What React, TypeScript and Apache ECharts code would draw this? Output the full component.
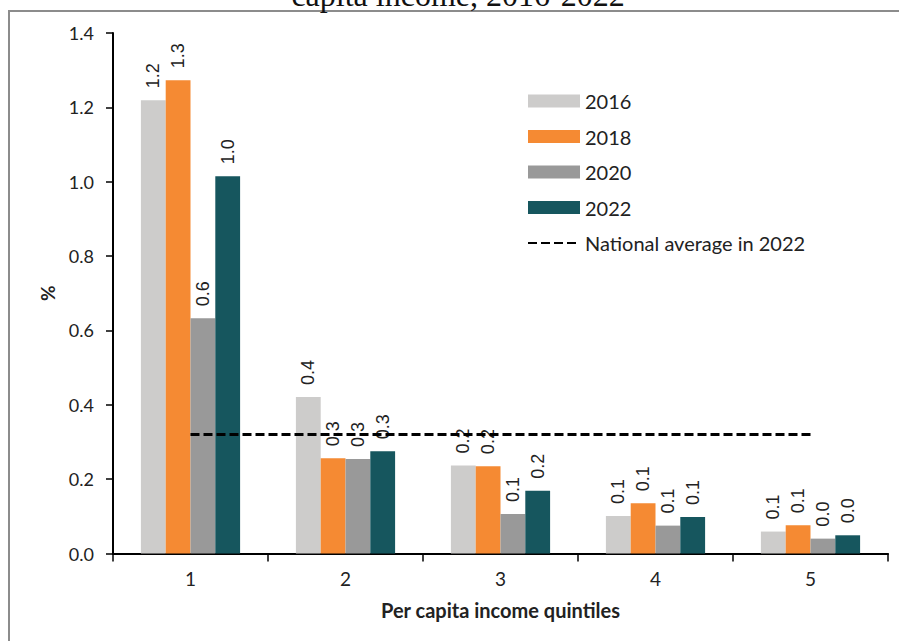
import React, { useEffect, useRef } from "react";
import * as echarts from "echarts";

const categories = ["1", "2", "3", "4", "5"];
const years = ["2016", "2018", "2020", "2022"];
const values2016 = [1.219, 0.421, 0.237, 0.101, 0.059];
const values2018 = [1.273, 0.256, 0.235, 0.135, 0.076];
const values2020 = [0.633, 0.254, 0.106, 0.075, 0.04];
const values2022 = [1.015, 0.275, 0.169, 0.098, 0.049];
const nationalAverage2022 = [0.32, 0.32, 0.32, 0.32, 0.32];
const yTicks = { min: 0, max: 1.4, interval: 0.2 };
const colors = ["#cdcccb", "#f58a33", "#999999", "#16565e"];

export default function App() {
  const ref = useRef<HTMLDivElement>(null);
  useEffect(() => {
    document.body.style.margin = "0";
    if (!ref.current) return;
    const chart = echarts.init(ref.current, null, { renderer: "svg" });
    const seriesValues = [values2016, values2018, values2020, values2022];
    const barSeries = years.map((y, i) => ({
      name: y,
      type: "bar",
      data: seriesValues[i],
      barGap: "0%",
      barCategoryGap: "36%",
      itemStyle: { color: colors[i] },
      label: {
        show: true,
        position: "top",
        rotate: 90,
        align: "left",
        verticalAlign: "middle",
        distance: 12,
        fontFamily: "Liberation Sans",
        fontSize: 18,
        color: "#222",
        formatter: (p: any) => Number(p.value).toFixed(1),
      },
    }));
    chart.setOption({
      animation: false,
      backgroundColor: "#fff",
      graphic: [
        {
          type: "rect",
          shape: { x: 9, y: 11, width: 900, height: 700 },
          style: { fill: "none", stroke: "#8c8c8c", lineWidth: 2 },
          silent: true,
        },
        {
          type: "text",
          x: 458,
          y: -5,
          style: {
            text: "capita income, 2016-2022",
            fontFamily: "Liberation Serif",
            fontSize: 32,
            fill: "#111",
            align: "center",
            verticalAlign: "middle",
          },
        },
      ],
      legend: {
        orient: "vertical",
        left: 527,
        top: 91,
        padding: 0,
        itemWidth: 52,
        itemHeight: 13,
        itemGap: 15.5,
        textStyle: { fontFamily: "Lato", fontSize: 20, color: "#222" },
        data: [
          ...years.map((y) => ({ name: y, icon: "rect" })),
          { name: "National average in 2022", itemStyle: { opacity: 0 } },
        ],
      },
      grid: { left: 113, top: 33, right: 11, bottom: 87.5, containLabel: false },
      xAxis: {
        type: "category",
        data: categories,
        name: "Per capita income quintiles",
        nameLocation: "middle",
        nameGap: 46,
        nameTextStyle: { fontFamily: "Lato", fontSize: 20, fontWeight: "bold", color: "#222" },
        axisLine: { lineStyle: { color: "#000", width: 2 } },
        axisTick: { show: true, length: 8, lineStyle: { color: "#000", width: 1.5 } },
        axisLabel: { fontFamily: "Lato", fontSize: 19, color: "#222", margin: 15 },
      },
      yAxis: {
        type: "value",
        min: yTicks.min,
        max: yTicks.max,
        interval: yTicks.interval,
        name: "%",
        nameLocation: "middle",
        nameGap: 56,
        nameRotate: 90,
        nameTextStyle: { fontFamily: "Lato", fontSize: 19, fontWeight: "bold", color: "#222" },
        axisLine: { show: true, lineStyle: { color: "#000", width: 2 } },
        axisTick: { show: true, length: 7, lineStyle: { color: "#000", width: 1.5 } },
        splitLine: { show: false },
        axisLabel: {
          fontFamily: "Lato",
          fontSize: 18,
          color: "#222",
          margin: 19,
          formatter: (v: number) => v.toFixed(1),
        },
      },
      series: [
        ...barSeries,
        {
          name: "National average in 2022",
          type: "line",
          data: nationalAverage2022,
          symbol: "none",
          lineStyle: { color: "#000", width: 3, type: [9, 4] },
          itemStyle: { color: "#000" },
          z: 5,
        },
      ],
    });
    return () => chart.dispose();
  }, []);
  return <div ref={ref} style={{ width: 899, height: 641 }} />;
}
